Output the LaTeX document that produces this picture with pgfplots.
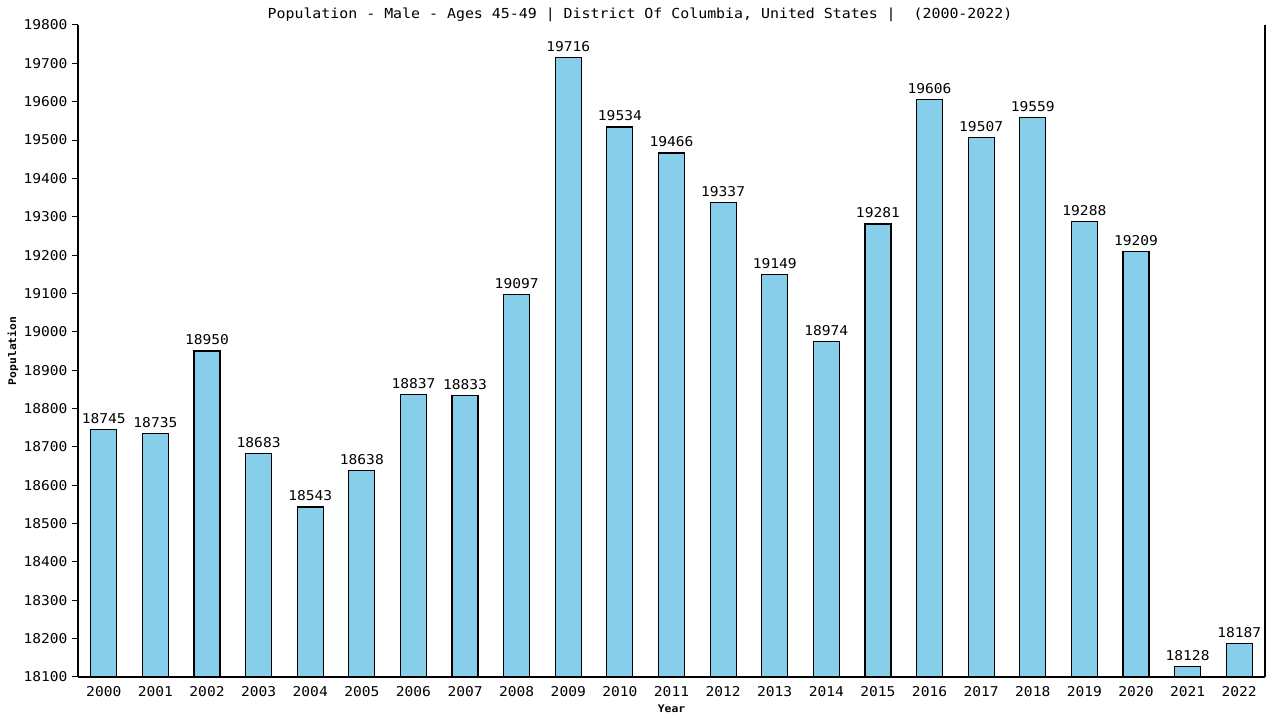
\documentclass[border=0pt]{standalone}
\usepackage{pgfplots}
\pgfplotsset{compat=1.18}
\usepackage{fontspec}
\setmainfont[FakeStretch=1.08]{DejaVu Sans Mono}
\definecolor{barblue}{HTML}{87CEEB}
\begin{document}
\begin{tikzpicture}[x=1pt,y=1pt]
\useasboundingbox (0,0) rectangle (1280,720);
\node[font=\fontsize{13.8}{15}\selectfont] at (640,705) {Population - Male - Ages 45-49 | District Of Columbia, United States |~ (2000-2022)};
\begin{axis}[
  at={(78pt,43pt)}, anchor=south west,
  scale only axis, width=1187pt, height=652pt,
  xmin=-0.5, xmax=22.5, ymin=18100, ymax=19800,
  axis x line=bottom, axis y line=left,
  axis line style={-, line width=1.2pt},
  xtick={0,...,22},
  xticklabels={2000,2001,2002,2003,2004,2005,2006,2007,2008,2009,2010,2011,2012,2013,2014,2015,2016,2017,2018,2019,2020,2021,2022},
  xtick style={draw=none},
  ytick={18100,18200,...,19800},
  scaled y ticks=false,
  ytick pos=left,
  tick align=outside,
  major tick length=6pt,
  ytick style={line width=1pt, black},
  /pgf/number format/assume math mode=true,
  /pgf/number format/1000 sep={},
  ticklabel style={font=\fontsize{13.5}{15}\selectfont},
  yticklabel style={xshift=-1pt},
  xticklabel style={yshift=0pt},
  xlabel={\textbf{Year}}, ylabel={\textbf{Population}},
  label style={font=\fontsize{10.5}{12}\selectfont},
  xlabel style={at={(axis description cs:0.5,-0.049)}, anchor=center},
  ylabel style={at={(axis description cs:-0.0547,0.5)}, anchor=center},
  nodes near coords,
  nodes near coords style={font=\fontsize{13.5}{15}\selectfont, yshift=2pt, /pgf/number format/assume math mode=true, /pgf/number format/1000 sep={}},
  clip=false,
]
\addplot[ybar, bar width=26pt, fill=barblue, draw=black, line width=1.2pt] coordinates {
(0,18745) (1,18735) (2,18950) (3,18683) (4,18543) (5,18638) (6,18837) (7,18833)
(8,19097) (9,19716) (10,19534) (11,19466) (12,19337) (13,19149) (14,18974) (15,19281)
(16,19606) (17,19507) (18,19559) (19,19288) (20,19209) (21,18128) (22,18187)};
\draw[line width=1.2pt] (rel axis cs:1,0) -- (rel axis cs:1,1);
\end{axis}
\end{tikzpicture}
\end{document}
